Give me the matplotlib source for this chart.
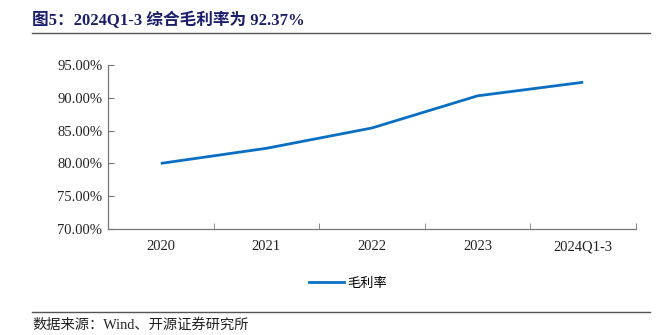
import numpy as np
import matplotlib
matplotlib.use('Agg')
import matplotlib.pyplot as plt
from matplotlib.lines import Line2D

# data
categories = ['2020', '2021', '2022', '2023', '2024Q1-3']
gross_margin = [80.0, 82.3, 85.4, 90.3, 92.37]
yticks = [70, 75, 80, 85, 90, 95]

serif = ['Liberation Serif', 'Noto Sans CJK SC']
cjk = ['Noto Sans CJK SC', 'Liberation Serif']

fig = plt.figure(figsize=(6.67, 3.35), dpi=100)
ax = fig.add_axes([108/667, 1 - 229/335, 528/667, 164/335])

x = np.arange(len(categories))
ax.plot(x, gross_margin, color='#0A6FC2', linewidth=2.0, solid_capstyle='butt')

ax.set_xlim(-0.5, len(categories) - 0.5)
ax.set_ylim(70, 95)
ax.set_yticks(yticks)
ax.set_yticklabels(['%.2f%%' % v for v in yticks], family=serif, fontsize=10.5, color='#222222')
ax.set_xticks(x)
ax.set_xticklabels(categories, family=serif, fontsize=10.5, color='#222222')
ax.set_xticks(np.arange(len(categories) + 1) - 0.5, minor=True)
ax.tick_params(axis='x', which='major', length=0, pad=8)
ax.tick_params(axis='x', which='minor', length=4, direction='in', color='#777777')
ax.tick_params(axis='y', length=4, direction='in', color='#777777', pad=4)

for s in ['top', 'right']:
    ax.spines[s].set_visible(False)
for s in ['left', 'bottom']:
    ax.spines[s].set_color('#777777')
    ax.spines[s].set_linewidth(0.9)

# legend
leg = ax.legend([Line2D([], [], color='#0A6FC2', linewidth=2.0)], ['毛利率'],
                loc='center', bbox_to_anchor=(0.455, -0.33), frameon=False,
                prop={'family': cjk, 'size': 9.5}, handlelength=2.6, handletextpad=0.3)

# title
fig.text(32/667, 1 - 20/335, '图5：2024Q1-3 综合毛利率为 92.37%', family=serif, fontsize=12,
         fontweight='bold', color='#1B1F6B', va='center', ha='left')
fig.add_artist(Line2D([32/667, 650/667], [1 - 33/335, 1 - 33/335], color='#555555', linewidth=1.0))

# source
fig.add_artist(Line2D([32/667, 650/667], [1 - 312/335, 1 - 312/335], color='#555555', linewidth=1.0))
fig.text(32/667, 1 - 325/335, '数据来源：Wind、开源证券研究所', family=serif, fontsize=10.3,
         color='#222222', va='center', ha='left')

fig.savefig('out.png', dpi=100)
